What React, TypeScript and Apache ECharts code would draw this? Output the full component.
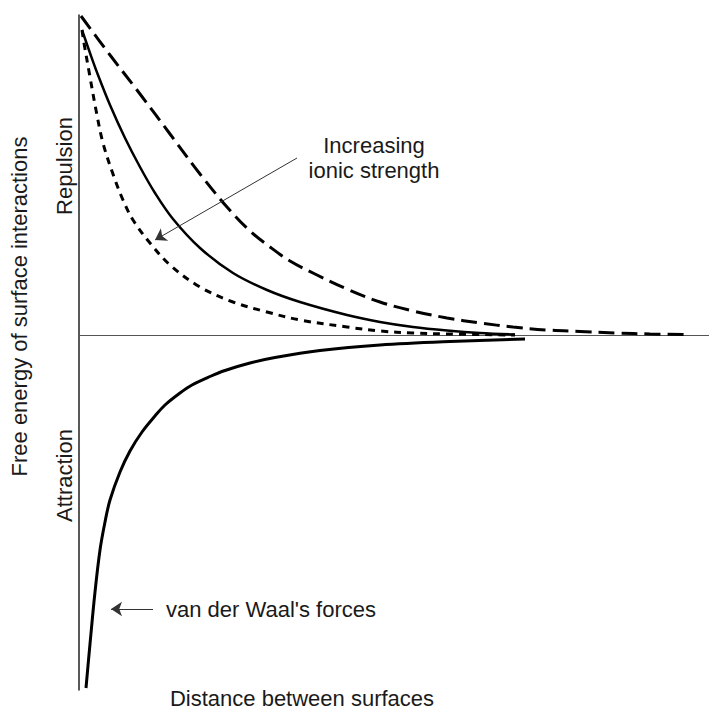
import React, { useEffect, useRef } from "react";
import * as echarts from "echarts";

// Distance between surfaces (arbitrary units) and free energy (arbitrary units)
const lowIonicX = [0.2, 3.1, 6.1, 9.1, 12.1, 14.8, 17.1, 19.1, 21.1, 23.6, 26.8, 30.1, 33.4, 36.8, 40.1, 43.4, 46.8, 50.1, 53.8, 57.1, 60.8];
const lowIonicY = [31.9, 28.0, 24.1, 20.1, 16.1, 12.8, 10.4, 8.8, 7.4, 6.1, 4.6, 3.3, 2.4, 1.7, 1.2, 0.8, 0.5, 0.35, 0.2, 0.1, 0.05];

const midIonicX = [0.3, 1.1, 1.9, 3.1, 4.6, 6.1, 7.6, 9.4, 12.1, 15.4, 18.8, 22.1, 26.8, 30.1, 33.4, 36.8, 40.1, 43.6];
const midIonicY = [30.5, 28.2, 26.0, 23.0, 19.7, 16.8, 14.2, 11.6, 8.7, 6.2, 4.5, 3.3, 2.0, 1.3, 0.8, 0.45, 0.2, 0.05];

const highIonicX = [0.3, 0.5, 1.1, 1.7, 2.4, 3.5, 4.4, 5.4, 7.1, 9.1, 12.1, 15.4, 18.8, 22.1, 26.8, 30.1, 33.4, 36.8, 43.6];
const highIonicY = [30.5, 29.2, 25.8, 22.5, 19.2, 15.8, 13.5, 11.5, 9.2, 7.0, 4.8, 3.3, 2.3, 1.5, 0.8, 0.4, 0.2, 0.1, 0.0];

const vdwX = [0.7, 1.1, 1.6, 2.1, 2.6, 3.1, 4.1, 5.1, 6.3, 7.6, 8.6, 10.1, 11.3, 13.1, 14.6, 17.1, 19.6, 24.1, 30.1, 37.1, 44.6];
const vdwY = [-35.3, -30.9, -25.7, -21.5, -18.7, -16.5, -13.7, -11.6, -9.7, -8.1, -7.0, -5.8, -5.0, -4.15, -3.55, -2.8, -2.25, -1.55, -1.0, -0.65, -0.4];

const xRange = [0, 63];
const yRange = [-35.5, 32];

const ionicArrow = [[21.8, 17.7], [7.6, 9.5]];
const vdwArrow = [[7.4, -27.4], [3.2, -27.4]];

const FONT = "'Liberation Sans', Arial, sans-serif";

const pairs = (xs: number[], ys: number[]) => xs.map((x, i) => [x, ys[i]]);

export default function App() {
  const ref = useRef<HTMLDivElement>(null);
  useEffect(() => {
    if (!ref.current) return;
    const chart = echarts.init(ref.current, null, { renderer: "svg" });
    const arrowLine = (pts: number[][]) => ({
      silent: true,
      symbol: ["none", "arrow"],
      symbolSize: 11,
      label: { show: false },
      emphasis: { disabled: true },
      lineStyle: { color: "#333", width: 1, type: "solid" },
      data: [[{ coord: pts[0] }, { coord: pts[1] }]],
    });
    const base = {
      type: "line",
      showSymbol: false,
      smooth: 0.35,
      silent: true,
      z: 3,
    };
    const txt = (text: string, x: number, y: number, align: string, rotation = 0) => ({
      type: "text",
      x,
      y,
      rotation,
      style: { text, font: `22px ${FONT}`, fill: "#1a1a1a", align, verticalAlign: "middle" },
    });
    chart.setOption({
      animation: false,
      backgroundColor: "#fff",
      grid: { left: 79, right: 0, top: 15, bottom: 20 },
      xAxis: {
        type: "value",
        min: xRange[0],
        max: xRange[1],
        axisLine: { show: true, onZero: true, lineStyle: { color: "#555", width: 1 } },
        axisTick: { show: false },
        axisLabel: { show: false },
        splitLine: { show: false },
      },
      yAxis: {
        type: "value",
        min: yRange[0],
        max: yRange[1],
        axisLine: { show: true, lineStyle: { color: "#222", width: 1.5 } },
        axisTick: { show: false },
        axisLabel: { show: false },
        splitLine: { show: false },
      },
      series: [
        {
          ...base,
          name: "Low ionic strength",
          data: pairs(lowIonicX, lowIonicY),
          lineStyle: { color: "#000", width: 3, type: [16, 7] },
          markLine: arrowLine(ionicArrow),
        },
        {
          ...base,
          name: "Medium ionic strength",
          data: pairs(midIonicX, midIonicY),
          lineStyle: { color: "#000", width: 2.5, type: "solid" },
        },
        {
          ...base,
          name: "High ionic strength",
          data: pairs(highIonicX, highIonicY),
          lineStyle: { color: "#000", width: 3, type: [7, 6] },
        },
        {
          ...base,
          name: "van der Waal's forces",
          data: pairs(vdwX, vdwY),
          lineStyle: { color: "#000", width: 3, type: "solid" },
          markLine: arrowLine(vdwArrow),
        },
      ],
      graphic: [
        txt("Free energy of surface interactions", 19.5, 306.5, "center", Math.PI / 2),
        txt("Repulsion", 64, 166, "center", Math.PI / 2),
        txt("Attraction", 64, 475.5, "center", Math.PI / 2),
        txt("Increasing", 374, 145.5, "center"),
        txt("ionic strength", 374, 170.5, "center"),
        txt("van der Waal's forces", 166, 609.5, "left"),
        txt("Distance between surfaces", 302, 698.5, "center"),
      ],
    });
    return () => chart.dispose();
  }, []);
  return (
    <div
      ref={ref}
      style={{ position: "fixed", left: 0, top: 0, width: 709, height: 710, background: "#fff" }}
    />
  );
}
